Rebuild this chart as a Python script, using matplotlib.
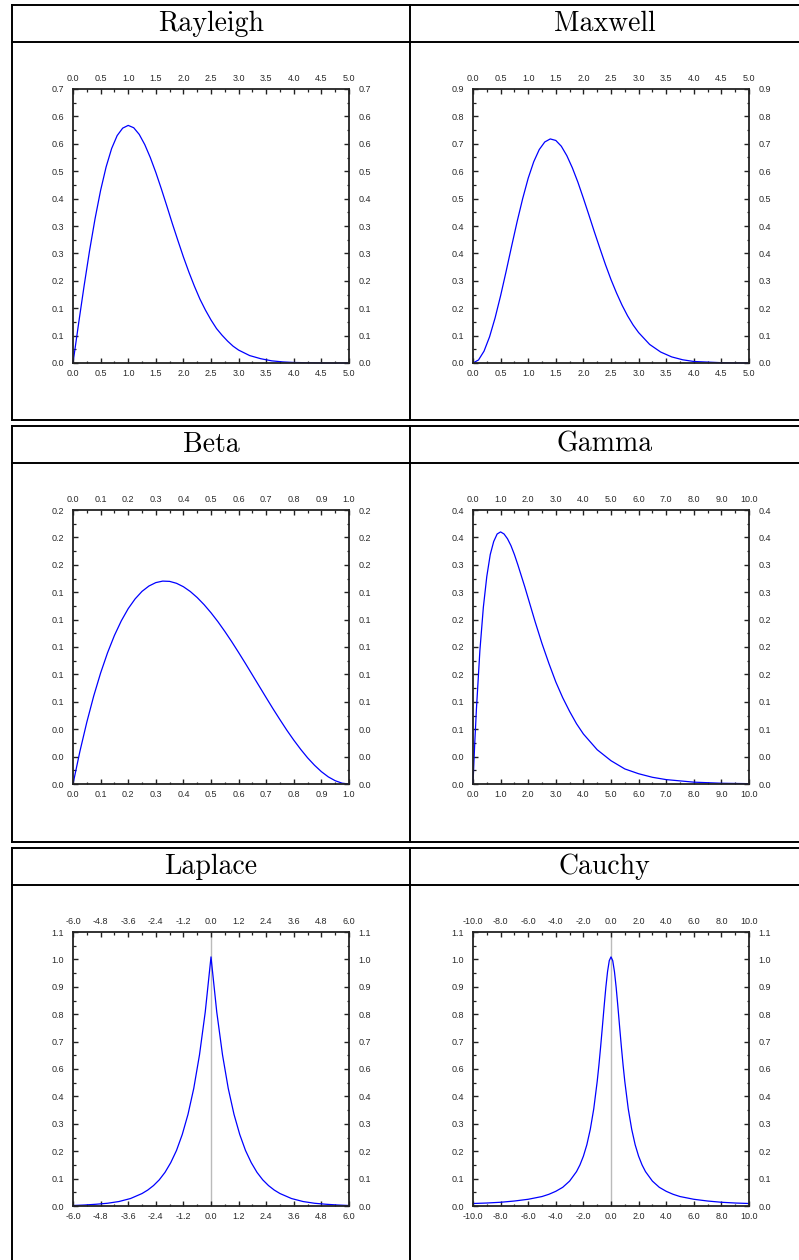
import numpy as np
import matplotlib.pyplot as plt
from matplotlib.ticker import FixedLocator, FixedFormatter

W, H = 799, 1260

# --- data ---
titles = ['Rayleigh', 'Maxwell', 'Beta', 'Gamma', 'Laplace', 'Cauchy']

rayleigh_x = [0, 0.1, 0.2, 0.3, 0.4, 0.5, 0.6, 0.7, 0.8, 0.9, 1.0, 1.1, 1.2, 1.3, 1.4, 1.5, 1.6,
              1.7, 1.8, 1.9, 2.0, 2.1, 2.2, 2.3, 2.4, 2.5, 2.6, 2.7, 2.8, 2.9, 3.0, 3.2, 3.4, 3.6,
              3.8, 4.0, 4.5, 5.0]
rayleigh_y = [0, 0.0995, 0.196, 0.287, 0.369, 0.441, 0.501, 0.548, 0.581, 0.600, 0.607, 0.601, 0.584,
              0.558, 0.525, 0.487, 0.445, 0.401, 0.356, 0.313, 0.271, 0.232, 0.196, 0.163, 0.135,
              0.110, 0.088, 0.071, 0.056, 0.043, 0.033, 0.019, 0.011, 0.0055, 0.0028, 0.0013,
              0.0001, 0.0]

maxwell_x = [0, 0.1, 0.2, 0.3, 0.4, 0.5, 0.6, 0.7, 0.8, 0.9, 1.0, 1.1, 1.2, 1.3, 1.4, 1.5, 1.6,
             1.7, 1.8, 1.9, 2.0, 2.1, 2.2, 2.3, 2.4, 2.5, 2.6, 2.7, 2.8, 2.9, 3.0, 3.2, 3.4, 3.6,
             3.8, 4.0, 4.5, 5.0]
maxwell_y = [0, 0.010, 0.039, 0.086, 0.148, 0.221, 0.301, 0.384, 0.465, 0.540, 0.607, 0.661, 0.701,
             0.726, 0.736, 0.731, 0.712, 0.681, 0.641, 0.594, 0.541, 0.486, 0.430, 0.376, 0.323,
             0.274, 0.230, 0.190, 0.155, 0.125, 0.100, 0.061, 0.036, 0.020, 0.0105, 0.005, 0.001,
             0.0]

beta_x = [0, 0.025, 0.05, 0.075, 0.1, 0.125, 0.15, 0.175, 0.2, 0.225, 0.25, 0.275, 0.3, 0.325,
          0.35, 0.375, 0.4, 0.425, 0.45, 0.475, 0.5, 0.525, 0.55, 0.575, 0.6, 0.625, 0.65, 0.675,
          0.7, 0.725, 0.75, 0.775, 0.8, 0.825, 0.85, 0.875, 0.9, 0.925, 0.95, 0.975, 1.0]
beta_y = [0, 0.0238, 0.0451, 0.0642, 0.081, 0.0957, 0.1084, 0.1191, 0.128, 0.1351, 0.1406, 0.1445,
          0.147, 0.1481, 0.1479, 0.1465, 0.144, 0.1405, 0.1361, 0.1309, 0.125, 0.1185, 0.1114,
          0.1039, 0.096, 0.0879, 0.0796, 0.0713, 0.063, 0.0548, 0.0469, 0.0392, 0.032, 0.0253,
          0.0191, 0.0137, 0.009, 0.0052, 0.0024, 0.0006, 0.0]

gamma_x = [0, 0.03125, 0.0625, 0.125, 0.25, 0.375, 0.5, 0.625, 0.75, 0.875, 1.0, 1.125, 1.25,
           1.375, 1.5, 1.625, 1.75, 1.875, 2.0, 2.25, 2.5, 2.75, 3.0, 3.25, 3.5, 3.75, 4.0, 4.5,
           5.0, 5.5, 6.0, 6.5, 7.0, 8.0, 9.0, 10.0]
gamma_y = [0, 0.030, 0.059, 0.110, 0.195, 0.258, 0.303, 0.335, 0.354, 0.365, 0.368, 0.365, 0.358,
           0.348, 0.335, 0.320, 0.304, 0.288, 0.271, 0.237, 0.205, 0.176, 0.149, 0.126, 0.106,
           0.088, 0.073, 0.050, 0.034, 0.022, 0.015, 0.0098, 0.0064, 0.0027, 0.0011, 0.0005]

laplace_x = [-6, -5.5, -5, -4.5, -4, -3.5, -3, -2.75, -2.5, -2.25, -2, -1.75, -1.5, -1.25, -1,
             -0.75, -0.5, -0.25, 0, 0.25, 0.5, 0.75, 1, 1.25, 1.5, 1.75, 2, 2.25, 2.5, 2.75, 3,
             3.5, 4, 4.5, 5, 5.5, 6]
laplace_y = [0.002, 0.004, 0.007, 0.011, 0.018, 0.030, 0.050, 0.064, 0.082, 0.105, 0.135, 0.174,
             0.223, 0.287, 0.368, 0.472, 0.607, 0.779, 1.0, 0.779, 0.607, 0.472, 0.368, 0.287,
             0.223, 0.174, 0.135, 0.105, 0.082, 0.064, 0.050, 0.030, 0.018, 0.011, 0.007, 0.004,
             0.002]

cauchy_x = [-10, -9, -8, -7, -6, -5, -4.5, -4, -3.5, -3, -2.5, -2.25, -2, -1.75, -1.5, -1.25, -1,
            -0.875, -0.75, -0.625, -0.5, -0.375, -0.25, -0.125, 0, 0.125, 0.25, 0.375, 0.5, 0.625,
            0.75, 0.875, 1, 1.25, 1.5, 1.75, 2, 2.25, 2.5, 3, 3.5, 4, 4.5, 5, 6, 7, 8, 9, 10]
cauchy_y = [0.010, 0.012, 0.015, 0.020, 0.027, 0.038, 0.047, 0.059, 0.075, 0.100, 0.138, 0.165,
            0.200, 0.246, 0.308, 0.390, 0.500, 0.566, 0.640, 0.719, 0.800, 0.877, 0.941, 0.985,
            1.0, 0.985, 0.941, 0.877, 0.800, 0.719, 0.640, 0.566, 0.500, 0.390, 0.308, 0.246,
            0.200, 0.165, 0.138, 0.100, 0.075, 0.059, 0.047, 0.038, 0.027, 0.020, 0.015, 0.012,
            0.010]

# tick labels (as printed, one decimal)
rayleigh_xlabels = ['0.0', '0.5', '1.0', '1.5', '2.0', '2.5', '3.0', '3.5', '4.0', '4.5', '5.0']
rayleigh_ylabels = ['0.0', '0.1', '0.1', '0.2', '0.3', '0.3', '0.4', '0.5', '0.6', '0.6', '0.7']
maxwell_xlabels = rayleigh_xlabels
maxwell_ylabels = ['0.0', '0.1', '0.2', '0.3', '0.4', '0.4', '0.5', '0.6', '0.7', '0.8', '0.9']
beta_xlabels = ['0.0', '0.1', '0.2', '0.3', '0.4', '0.5', '0.6', '0.7', '0.8', '0.9', '1.0']
beta_ylabels = ['0.0', '0.0', '0.0', '0.1', '0.1', '0.1', '0.1', '0.1', '0.2', '0.2', '0.2']
gamma_xlabels = ['0.0', '1.0', '2.0', '3.0', '4.0', '5.0', '6.0', '7.0', '8.0', '9.0', '10.0']
gamma_ylabels = ['0.0', '0.0', '0.1', '0.1', '0.2', '0.2', '0.2', '0.3', '0.3', '0.4', '0.4']
laplace_xlabels = ['-6.0', '-4.8', '-3.6', '-2.4', '-1.2', '0.0', '1.2', '2.4', '3.6', '4.8', '6.0']
laplace_ylabels = ['0.0', '0.1', '0.2', '0.3', '0.4', '0.6', '0.7', '0.8', '0.9', '1.0', '1.1']
cauchy_xlabels = ['-10.0', '-8.0', '-6.0', '-4.0', '-2.0', '0.0', '2.0', '4.0', '6.0', '8.0', '10.0']
cauchy_ylabels = laplace_ylabels

x_ranges = [(0, 5), (0, 5), (0, 1), (0, 10), (-6, 6), (-10, 10)]
y_max = [0.7, 0.9, 0.2, 0.4, 1.1, 1.1]

panels = [
    (rayleigh_x, rayleigh_y, rayleigh_xlabels, rayleigh_ylabels),
    (maxwell_x, maxwell_y, maxwell_xlabels, maxwell_ylabels),
    (beta_x, beta_y, beta_xlabels, beta_ylabels),
    (gamma_x, gamma_y, gamma_xlabels, gamma_ylabels),
    (laplace_x, laplace_y, laplace_xlabels, laplace_ylabels),
    (cauchy_x, cauchy_y, cauchy_xlabels, cauchy_ylabels),
]

fig = plt.figure(figsize=(W / 100, H / 100), dpi=100)

# table frame, drawn in pixel coordinates
frame = fig.add_axes([0, 0, 1, 1])
frame.set_xlim(0, W)
frame.set_ylim(H, 0)
frame.axis('off')

row_tops = [5, 426, 848]
row_bottoms = [420, 842, H + 2]
header_h = 37
col_x = [12, 410]
lw_tab = 1.4
for r in range(3):
    top, bot = row_tops[r], row_bottoms[r]
    frame.plot([col_x[0], W], [top, top], color='k', lw=lw_tab)
    frame.plot([col_x[0], W], [top + header_h, top + header_h], color='k', lw=lw_tab)
    if r < 2:
        frame.plot([col_x[0], W], [bot, bot], color='k', lw=lw_tab)
    for cx in col_x:
        frame.plot([cx, cx], [top, bot], color='k', lw=lw_tab)
    for c in range(2):
        cx = (col_x[0] + col_x[1]) / 2 if c == 0 else (col_x[1] + W) / 2
        frame.text(cx, top + 26, titles[2 * r + c], fontfamily='cmr10', fontsize=20,
                   ha='center', va='baseline', color='k')

ax_left = [73, 473]
ax_top = [89, 510, 932]
ax_w, ax_h = 276, 274

for i, (xs, ys, xl, yl) in enumerate(panels):
    r, c = divmod(i, 2)
    ax = fig.add_axes([ax_left[c] / W, 1 - (ax_top[r] + ax_h) / H, ax_w / W, ax_h / H])
    x0, x1 = x_ranges[i]
    if x0 < 0:
        ax.axvline(0, color='#bbbbbb', lw=1.0, zorder=1)
    ax.plot(xs, ys, color='#0000ff', lw=0.9, zorder=2, clip_on=False)
    ax.set_xlim(x0, x1)
    ax.set_ylim(0, y_max[i])

    xt = np.linspace(x0, x1, 11)
    yt = np.linspace(0, y_max[i], 11)
    ax.xaxis.set_major_locator(FixedLocator(xt))
    ax.xaxis.set_major_formatter(FixedFormatter(xl))
    ax.xaxis.set_minor_locator(FixedLocator((xt[:-1] + xt[1:]) / 2))
    ax.yaxis.set_major_locator(FixedLocator(yt))
    ax.yaxis.set_major_formatter(FixedFormatter(yl))
    ax.yaxis.set_minor_locator(FixedLocator((yt[:-1] + yt[1:]) / 2))

    ax.tick_params(which='both', direction='in', top=True, right=True,
                   labeltop=True, labelright=True, color='#222222')
    ax.tick_params(which='major', length=3.5, width=1.0)
    ax.tick_params(which='minor', length=1.8, width=0.9)
    ax.tick_params(axis='x', pad=4.2, labelsize=6.5, labelcolor='#2a2a2a')
    ax.tick_params(axis='y', pad=6.6, labelsize=6.5, labelcolor='#2a2a2a')
    for lab in ax.get_xticklabels() + ax.get_yticklabels():
        lab.set_fontfamily('Liberation Sans')
    for s in ax.spines.values():
        s.set_linewidth(1.3)
        s.set_color('#222222')

fig.savefig('out.png', dpi=100)
